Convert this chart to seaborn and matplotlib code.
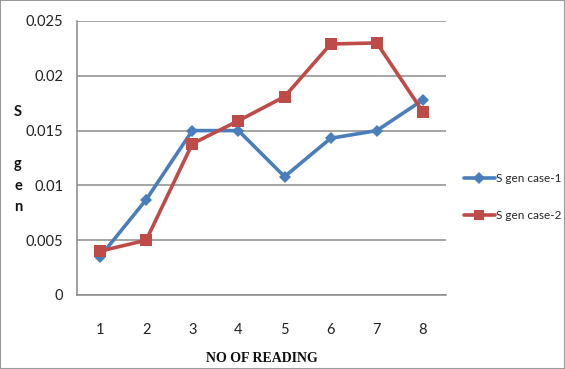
import matplotlib
matplotlib.use("Agg")
import matplotlib.pyplot as plt
from matplotlib.patches import Rectangle
from matplotlib.lines import Line2D
import seaborn as sns
import pandas as pd

readings = [1, 2, 3, 4, 5, 6, 7, 8]
sgen_case1 = [0.0035, 0.0087, 0.0150, 0.0150, 0.0108, 0.0143, 0.0150, 0.0178]
sgen_case2 = [0.0040, 0.0050, 0.0138, 0.0159, 0.0181, 0.0229, 0.0230, 0.0167]
series_names = ["S gen case-1", "S gen case-2"]
y_ticks = [0, 0.005, 0.01, 0.015, 0.02, 0.025]
y_tick_labels = ["0", "0.005", "0.01", "0.015", "0.02", "0.025"]

df = pd.DataFrame({
    "reading": readings * 2,
    "sgen": sgen_case1 + sgen_case2,
    "series": [series_names[0]] * len(readings) + [series_names[1]] * len(readings),
})

sns.set_style("white")
plt.rcParams["font.family"] = ["Lato", "DejaVu Sans"]

colors = {series_names[0]: "#4A7EBB", series_names[1]: "#BE4B48"}
markers = {series_names[0]: "D", series_names[1]: "s"}

fig = plt.figure(figsize=(5.65, 3.69), dpi=100)
ax = fig.add_axes([77 / 565, 1 - 295 / 369, (446 - 77) / 565, (295 - 21) / 369])

sns.lineplot(data=df, x="reading", y="sgen", hue="series", style="series",
             palette=colors, markers=markers, dashes=False, linewidth=2.6,
             markersize=7, markeredgewidth=0, legend=False, ax=ax, zorder=3)
# the diamond markers of case-1 are a little smaller
for line, ms in zip(ax.lines, [6, 8]):
    line.set_markersize(ms)

ax.set_xlim(0.5, 8.5)
ax.set_ylim(0, 0.025)
ax.set_yticks(y_ticks)
ax.set_yticklabels(y_tick_labels, fontsize=10.5, color="#222222")
ax.set_xticks(readings)
ax.set_xticklabels([str(r) for r in readings], fontsize=10.5, color="#222222")
ax.set_xticks([r + 0.5 for r in [0] + readings], minor=True)
ax.tick_params(axis="x", which="major", length=0, pad=20)
ax.tick_params(axis="x", which="minor", length=5, color="#888888", width=1, direction="out")
ax.tick_params(axis="y", which="major", length=5, color="#888888", width=1, direction="out", pad=5)

ax.grid(axis="y", color="#8c8c8c", linewidth=1.1, zorder=0)
ax.set_axisbelow(True)
for side in ["top", "right"]:
    ax.spines[side].set_visible(False)
for side in ["left", "bottom"]:
    ax.spines[side].set_color("#888888")
    ax.spines[side].set_linewidth(1.1)

ax.set_xlabel("")
ax.set_ylabel("")
fig.text(262 / 565, 1 - 359 / 369, "NO OF READING", ha="center", va="center",
         fontsize=10, fontweight="bold", family=["Liberation Serif", "DejaVu Serif"],
         color="#111111")
# vertical y-axis title, one letter per line
for letter, ypx in zip(["S", "g", "e", "n"], [112, 164, 186, 207]):
    fig.text(18 / 565, 1 - ypx / 369, letter, ha="center", va="center",
             fontsize=10.5, fontweight="bold", color="#111111")

handles = [Line2D([], [], color=colors[n], marker=markers[n], linewidth=2.6,
                  markersize=7 if n == series_names[1] else 6, markeredgewidth=0)
           for n in series_names]
fig.legend(handles, series_names, loc="center left", bbox_to_anchor=(464 / 565, 1 - 197 / 369),
           frameon=False, fontsize=8.5, handlelength=2.6, handletextpad=0.1,
           labelspacing=2.2, borderaxespad=0, borderpad=0)

fig.patches.append(Rectangle((0, 0), 1, 1, transform=fig.transFigure, fill=False,
                             edgecolor="#9a9a9a", linewidth=1.5))

fig.savefig("out.png", dpi=100)
